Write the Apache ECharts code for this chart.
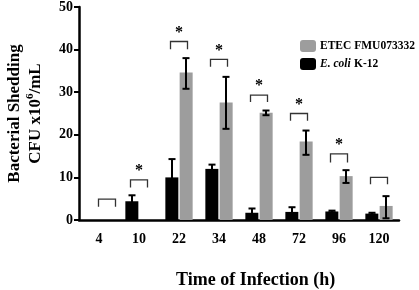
<!DOCTYPE html>
<html><head><meta charset="utf-8">
<script src="https://cdn.jsdelivr.net/npm/echarts@6/dist/echarts.min.js"></script>
<style>html,body{margin:0;padding:0;background:#fff}#c{width:419px;height:290px}</style>
</head><body><div id="c"></div>
<script>
var categories = ['4','10','22','34','48','72','96','120'];
var k12Mean = [0, 4.4, 10.0, 12.0, 1.7, 1.9, 2.0, 1.5];
var k12Upper = [0, 5.8, 14.3, 13.0, 2.7, 3.0, 2.2, 1.7];
var k12Lower = [0, 3.0, 5.7, 11.0, 0.7, 0.8, 1.8, 1.3];
var etecMean = [0, 0, 34.6, 27.6, 25.2, 18.4, 10.3, 3.3];
var etecUpper = [0, 0, 38.0, 33.6, 25.7, 21.0, 11.7, 5.6];
var etecLower = [0, 0, 30.8, 21.4, 24.6, 15.3, 8.7, 0.4];
var bracketTop = [4.9, 9.4, 41.9, 37.7, 29.3, 25.0, 15.5, 10.0];
var bracketLeg = [3.1, 7.6, 40.1, 36.0, 27.7, 23.3, 13.5, 8.4];
var significant = [false, true, true, true, true, true, true, false];
var yTicks = [0, 10, 20, 30, 40, 50];

var serif = '"Liberation Serif","Times New Roman",serif';
var chart = echarts.init(document.getElementById('c'));

function errRender(side, lo, hi) {
  return function (params, api) {
    var i = api.value(0);
    if (hi[i] - lo[i] <= 0.01) return;
    var c = api.coord([i, 0]);
    var x = c[0] + side * 7;
    var pHi = api.coord([i, hi[i]])[1];
    var pLo = api.coord([i, lo[i]])[1];
    var st = {stroke: '#000', lineWidth: 2};
    return {type: 'group', children: [
      {type: 'line', shape: {x1: x, y1: pHi, x2: x, y2: pLo}, style: st},
      {type: 'line', shape: {x1: x - 3.5, y1: pHi, x2: x + 3.5, y2: pHi}, style: st},
      {type: 'line', shape: {x1: x - 3.5, y1: pLo, x2: x + 3.5, y2: pLo}, style: st}
    ]};
  };
}

function bracketRender(params, api) {
  var i = api.value(0);
  var c = api.coord([i, bracketTop[i]]);
  var shift = i === 0 ? 8 : 0;
  var cx = c[0] + shift;
  var yt = c[1];
  var yl = api.coord([i, bracketLeg[i]])[1];
  var st = {stroke: '#333', lineWidth: 1.3, fill: null};
  var ch = [{type: 'polyline', shape: {points: [[cx - 8.5, yl], [cx - 8.5, yt], [cx + 8.5, yt], [cx + 8.5, yl]]}, style: st}];
  if (significant[i]) {
    ch.push({type: 'text', style: {x: cx, y: yt - 1, text: '*', fill: '#000', font: 'bold 16px ' + serif, align: 'center', verticalAlign: 'bottom'}});
  }
  return {type: 'group', children: ch};
}

var idx = categories.map(function (c, i) { return [i]; });

chart.setOption({
  animation: false,
  grid: {left: 79, right: 20, top: 7, bottom: 70, containLabel: false, outerBoundsMode: 'none'},
  legend: {
    orient: 'vertical', left: 300, top: 40, padding: 0, itemWidth: 16, itemHeight: 12, itemGap: 6,
    icon: 'roundRect',
    data: ['ETEC FMU073332', 'E. coli K-12'],
    formatter: function (n) { return n === 'E. coli K-12' ? '{i|E. coli} {b|K-12}' : '{b|' + n + '}'; },
    textStyle: {
      padding: [0, 0, 0, -1],
      rich: {
        b: {fontFamily: serif, fontWeight: 'bold', fontSize: 11.5, color: '#000'},
        i: {fontFamily: serif, fontWeight: 'bold', fontStyle: 'italic', fontSize: 11.5, color: '#000'}
      }
    }
  },
  xAxis: {
    type: 'category', data: categories,
    axisLine: {lineStyle: {color: '#000', width: 2.5}},
    axisTick: {alignWithLabel: true, length: 5, lineStyle: {color: '#000', width: 2}},
    axisLabel: {color: '#000', fontFamily: serif, fontWeight: 'bold', fontSize: 14, margin: 12}
  },
  yAxis: {
    type: 'value', min: yTicks[0], max: yTicks[yTicks.length - 1], interval: 10,
    splitLine: {show: false},
    axisLine: {show: true, lineStyle: {color: '#000', width: 2.5}},
    axisTick: {show: true, length: 5, lineStyle: {color: '#000', width: 2}},
    axisLabel: {color: '#000', fontFamily: serif, fontWeight: 'bold', fontSize: 14, margin: 6},
    name: '{a|Bacterial Shedding}\n{a|CFU x10}{s|6}{a|/mL}',
    nameLocation: 'middle', nameGap: 33, nameRotate: 90,
    nameTextStyle: {
      rich: {
        a: {fontFamily: serif, fontWeight: 'bold', fontSize: 17, color: '#000', lineHeight: 21},
        s: {fontFamily: serif, fontWeight: 'bold', fontSize: 11, color: '#000', verticalAlign: 'top', lineHeight: 21, padding: [0, 0, 8, 0]}
      }
    }
  },
  graphic: [{
    type: 'text', left: 176, top: 271,
    style: {text: 'Time of Infection (h)', font: 'bold 18px ' + serif, fill: '#000'}
  }],
  series: [
    {name: 'E. coli K-12', type: 'bar', data: k12Mean, barWidth: 13, barGap: '10%',
     itemStyle: {color: '#000'}},
    {name: 'ETEC FMU073332', type: 'bar', data: etecMean, barWidth: 13, barGap: '10%',
     itemStyle: {color: '#9d9d9d'}},
    {type: 'custom', data: idx, renderItem: errRender(-1, k12Lower, k12Upper), z: 5},
    {type: 'custom', data: idx, renderItem: errRender(1, etecLower, etecUpper), z: 5},
    {type: 'custom', data: idx, renderItem: bracketRender, z: 5}
  ]
});
</script></body></html>
